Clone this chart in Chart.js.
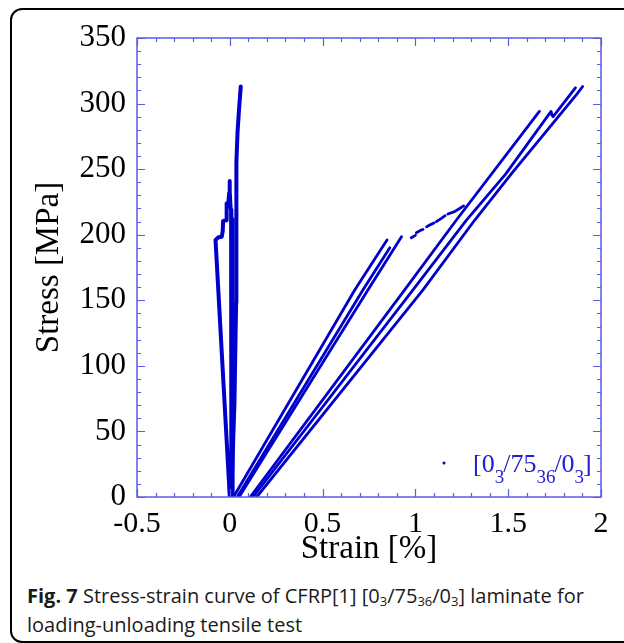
<!DOCTYPE html>
<html>
<head>
<meta charset="utf-8">
<script src="https://cdn.jsdelivr.net/npm/chart.js@4.4.1/dist/chart.umd.min.js"></script>
<style>
  html, body { margin: 0; padding: 0; background: #fff; width: 624px; height: 643px; overflow: hidden; }
  #frame { position: absolute; left: 10px; top: 8px; width: 650px; height: 631px; border: 2px solid #000; border-radius: 12px; }
  #wrap { position: absolute; left: 0; top: 0; width: 624px; height: 580px; }
  #caption { position: absolute; left: 27px; top: 581px; width: 595px; font-family: "Open Sans", sans-serif; font-size: 20px; line-height: 29px; color: #1a1a1a; white-space: nowrap; }
  #caption sub { font-size: 13px; vertical-align: -3px; line-height: 0; }
</style>
</head>
<body>
<div id="frame"></div>
<div id="wrap"><canvas id="c" width="624" height="580"></canvas></div>
<div id="caption"><b>Fig. 7</b> Stress-strain curve of CFRP[1] [0<sub>3</sub>/75<sub>36</sub>/0<sub>3</sub>] laminate for<br>loading-unloading tensile test</div>
<script>
// ---- data (strain in %, stress in MPa) ----
const xTickLabels = ['-0.5', '0', '0.5', '1', '1.5', '2'];
const yTickLabels = ['0', '50', '100', '150', '200', '250', '300', '350'];

const zeroLeftStrain = [0.0, -0.077, -0.061, -0.043, -0.038, -0.036, -0.020, -0.017, -0.008, -0.003, -0.002, 0.001, 0.004, 0.007, 0.009, 0.008];
const zeroLeftStress = [0, 196, 198, 198.5, 203, 210.5, 211, 224, 224.5, 232, 241, 233, 221, 219, 150, 0];
const zeroMidStrain = [0.012, 0.016, 0.017];
const zeroMidStress = [0, 150, 212];
const zeroRightStrain = [0.008, 0.025, 0.034, 0.037, 0.034, 0.042, 0.050, 0.059];
const zeroRightStress = [0, 72, 148, 219, 255, 279, 296, 313];

const mid1Strain = [0.02, 0.674, 0.847];
const mid1Stress = [0, 158, 196];
const mid2Strain = [0.04, 0.718, 0.862];
const mid2Stress = [0, 158, 190];
const mid3Strain = [0.05, 0.745, 0.925];
const mid3Stress = [0, 158, 198.5];

const plateauStrain = [0.978, 1.000, 1.002, 1.005, 1.030, 1.041, 1.050, 1.060, 1.077, 1.100, 1.106, 1.113, 1.140, 1.160, 1.168, 1.175, 1.211, 1.238, 1.260];
const plateauStress = [197.7, 199.5, null, 201.5, 203.5, 204, null, 206, 207.4, 209, null, 210, 212.5, 214.5, null, 215.8, 217.6, 220, 222];

const right1Strain = [0.11, 0.942, 1.22, 1.668];
const right1Stress = [0, 158, 211, 294];
const right2Strain = [0.125, 0.987, 1.274, 1.485, 1.731, 1.736, 1.742, 1.862];
const right2Stress = [0, 158, 211, 246, 294, 291, 290, 312];
const right3Strain = [0.145, 1.041, 1.319, 1.52, 1.869, 1.901];
const right3Stress = [0, 158, 211, 247, 307, 313];

// ---- styles ----
const DATA_BLUE = '#0000cc';
const AXIS_BLUE = '#5b5be6';
const SERIF = '"Liberation Serif", "Times New Roman", serif';

function pts(xs, ys) { return xs.map((x, i) => ({ x: x, y: ys[i] })); }
function ds(xs, ys, w) {
  return { data: pts(xs, ys), showLine: true, borderColor: DATA_BLUE, backgroundColor: DATA_BLUE,
           borderWidth: w, pointRadius: 0, spanGaps: false, tension: 0, borderJoinStyle: 'round', borderCapStyle: 'round' };
}

const datasets = [
  ds(zeroLeftStrain, zeroLeftStress, 4),
  ds(zeroMidStrain, zeroMidStress, 3.5),
  ds(zeroRightStrain, zeroRightStress, 4),
  ds(mid1Strain, mid1Stress, 2.8),
  ds(mid2Strain, mid2Stress, 2.8),
  ds(mid3Strain, mid3Stress, 2.8),
  ds(plateauStrain, plateauStress, 2.8),
  ds(right1Strain, right1Stress, 2.8),
  ds(right2Strain, right2Stress, 2.8),
  ds(right3Strain, right3Stress, 2.8)
];

// inward tick marks on all four sides
const tickPlugin = {
  id: 'inTicks',
  afterDatasetsDraw(chart) {
    const { ctx, chartArea: a, scales: { x, y } } = chart;
    ctx.save();
    ctx.strokeStyle = AXIS_BLUE;
    ctx.lineWidth = 1.2;
    ctx.beginPath();
    for (let i = 0; i <= 25; i++) {
      const v = -0.5 + i * 0.1;
      const px = Math.round(x.getPixelForValue(v)) + 0.5;
      const len = (i % 5 === 0) ? 8 : 4;
      ctx.moveTo(px, a.bottom); ctx.lineTo(px, a.bottom - len);
      ctx.moveTo(px, a.top); ctx.lineTo(px, a.top + len);
    }
    for (let i = 0; i <= 35; i++) {
      const v = i * 10;
      const py = Math.round(y.getPixelForValue(v)) + 0.5;
      const len = (i % 5 === 0) ? 8 : 4;
      ctx.moveTo(a.left, py); ctx.lineTo(a.left + len, py);
      ctx.moveTo(a.right, py); ctx.lineTo(a.right - len, py);
    }
    ctx.stroke();
    ctx.lineWidth = 1.5;
    ctx.strokeRect(a.left, a.top, a.right - a.left, a.bottom - a.top);
    ctx.restore();
  }
};

// legend: dot + [0_3/75_36/0_3]
const legendPlugin = {
  id: 'subLegend',
  afterDraw(chart) {
    const { ctx, chartArea: a } = chart;
    ctx.save();
    ctx.fillStyle = DATA_BLUE;
    ctx.beginPath();
    ctx.arc(a.right - 157, a.bottom - 34, 1.5, 0, Math.PI * 2);
    ctx.fill();
    const parts = [['[0', 0], ['3', 1], ['/75', 0], ['36', 1], ['/0', 0], ['3', 1], [']', 0]];
    let cx = a.right - 128;
    const baseY = a.bottom - 25;
    ctx.fillStyle = '#2020cc';
    ctx.textBaseline = 'alphabetic';
    for (const [t, sub] of parts) {
      ctx.font = (sub ? '19px ' : '26px ') + SERIF;
      ctx.fillText(t, cx, sub ? baseY + 11 : baseY);
      cx += ctx.measureText(t).width - (sub ? 1 : 0);
    }
    ctx.restore();
  }
};

new Chart(document.getElementById('c'), {
  type: 'scatter',
  data: { datasets: datasets },
  plugins: [tickPlugin, legendPlugin],
  options: {
    responsive: false,
    animation: false,
    events: [],
    layout: { padding: { left: 0, top: 38, right: 23, bottom: 0 } },
    plugins: { legend: { display: false }, tooltip: { enabled: false } },
    scales: {
      x: {
        type: 'linear', min: -0.5, max: 2,
        afterFit(s) { s.height = 83; },
        afterBuildTicks(s) { s.ticks = xTickLabels.map(t => ({ value: parseFloat(t) })); },
        grid: { display: false, drawTicks: false },
        border: { display: false },
        ticks: { color: '#000', font: { family: SERIF, size: 30 }, padding: 9,
                 callback: (v) => xTickLabels.find(t => parseFloat(t) === v) },
        title: { display: true, text: 'Strain [%]', color: '#000', font: { family: SERIF, size: 33 }, padding: { top: 0, bottom: 11 } }
      },
      y: {
        type: 'linear', min: 0, max: 350,
        afterFit(s) { s.width = 137; },
        afterBuildTicks(s) { s.ticks = yTickLabels.map(t => ({ value: parseFloat(t) })); },
        grid: { display: false, drawTicks: false },
        border: { display: false },
        ticks: { color: '#000', font: { family: SERIF, size: 31 }, padding: 11,
                 callback: (v) => yTickLabels.find(t => parseFloat(t) === v) },
        title: { display: true, text: 'Stress [MPa]', color: '#000', font: { family: SERIF, size: 33 }, padding: { top: 30, bottom: 0 } }
      }
    }
  }
});
</script>
</body>
</html>
